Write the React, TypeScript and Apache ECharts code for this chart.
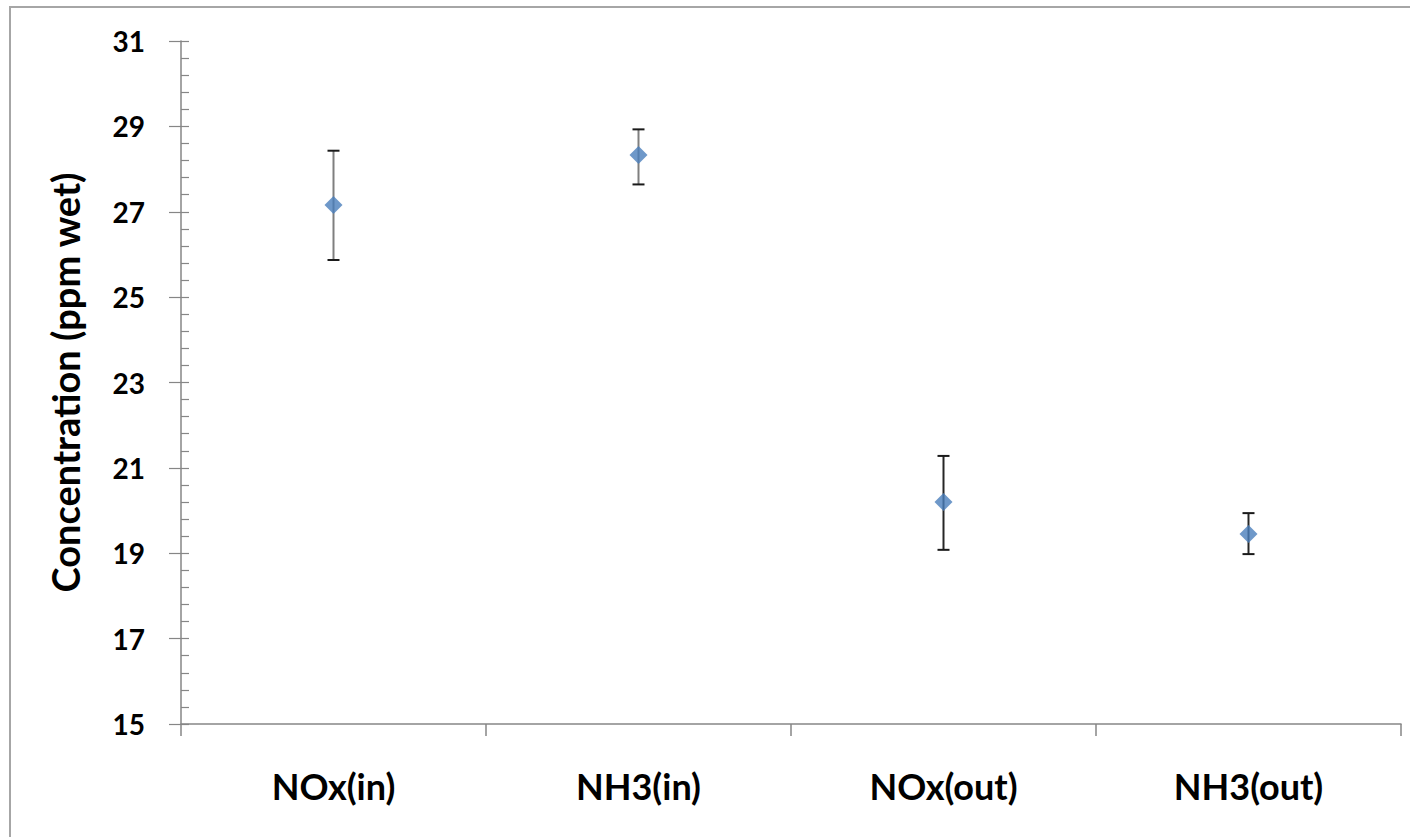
import React, { useEffect, useRef } from "react";
import * as echarts from "echarts";

const categories = ["NOx(in)", "NH3(in)", "NOx(out)", "NH3(out)"];
const meanValues = [27.16, 28.33, 20.2, 19.45];
const lowValues = [25.87, 27.64, 19.08, 18.98];
const highValues = [28.43, 28.93, 21.28, 19.94];
const stemColors = ["#7f7f7f", "#7f7f7f", "#262626", "#262626"];

const FONT = "Lato";

export default function App() {
  const ref = useRef<HTMLDivElement>(null);
  useEffect(() => {
    if (!ref.current) return;
    const chart = echarts.init(ref.current, undefined, { renderer: "svg" });
    const errData = categories.map((_, i) => [i, lowValues[i], highValues[i]]);
    const axisColor = "#868686";
    chart.setOption({
      animation: false,
      backgroundColor: "#ffffff",
      grid: { left: 181, right: 9, top: 41, bottom: 113 },
      xAxis: {
        type: "category",
        data: categories,
        boundaryGap: true,
        axisLine: { lineStyle: { color: axisColor, width: 1.5 } },
        axisTick: { show: true, length: 12, interval: 0, lineStyle: { color: axisColor, width: 1.5 } },
        axisLabel: {
          interval: 0,
          margin: 44,
          color: "#000",
          fontFamily: FONT,
          fontWeight: "bold",
          fontSize: 36,
        },
        splitLine: { show: false },
      },
      yAxis: [
        {
          type: "value",
          min: 15,
          max: 31,
          interval: 2,
          position: "left",
          name: "Concentration (ppm wet)",
          nameLocation: "middle",
          nameGap: 97,
          nameTextStyle: { color: "#000", fontFamily: FONT, fontWeight: "bold", fontSize: 38 },
          axisLine: { show: true, lineStyle: { color: axisColor, width: 1.5 } },
          axisTick: { show: true, inside: true, length: 8, lineStyle: { color: axisColor, width: 1.2 } },
          minorTick: { show: true, splitNumber: 5, length: 8, lineStyle: { color: axisColor, width: 1.2 } },
          axisLabel: {
            margin: 36,
            color: "#000",
            fontFamily: FONT,
            fontWeight: "bold",
            fontSize: 28,
          },
          splitLine: { show: false },
          minorSplitLine: { show: false },
        },
        {
          type: "value",
          min: 15,
          max: 31,
          interval: 2,
          position: "left",
          axisLine: { show: false },
          axisTick: { show: true, inside: false, length: 12, lineStyle: { color: axisColor, width: 1.2 } },
          axisLabel: { show: false },
          splitLine: { show: false },
        },
      ],
      series: [
        {
          type: "custom",
          name: "error",
          yAxisIndex: 0,
          data: errData,
          z: 2,
          renderItem: (params: any, api: any) => {
            const i = api.value(0);
            const lo = api.coord([i, api.value(1)]);
            const hi = api.coord([i, api.value(2)]);
            const half = 6;
            const stem = stemColors[params.dataIndex];
            return {
              type: "group",
              children: [
                { type: "line", shape: { x1: lo[0], y1: lo[1], x2: hi[0], y2: hi[1] }, style: { stroke: stem, lineWidth: 2 } },
                { type: "line", shape: { x1: lo[0] - half, y1: lo[1], x2: lo[0] + half, y2: lo[1] }, style: { stroke: "#1a1a1a", lineWidth: 2 } },
                { type: "line", shape: { x1: hi[0] - half, y1: hi[1], x2: hi[0] + half, y2: hi[1] }, style: { stroke: "#1a1a1a", lineWidth: 2 } },
              ],
            };
          },
        },
        {
          type: "scatter",
          name: "mean",
          yAxisIndex: 0,
          data: meanValues,
          symbol: "diamond",
          symbolSize: [18, 18],
          itemStyle: { color: "#4A7EBB" },
          z: 5,
        },
      ],
      graphic: [
        {
          type: "rect",
          shape: { x: 10, y: 7, width: 1500, height: 900 },
          style: { fill: "none", stroke: "#a6a6a6", lineWidth: 2 },
          silent: true,
        },
      ],
    });
    return () => chart.dispose();
  }, []);
  return (
    <div
      ref={ref}
      style={{ position: "fixed", left: 0, top: 0, width: 1410, height: 837, background: "#fff" }}
    />
  );
}
